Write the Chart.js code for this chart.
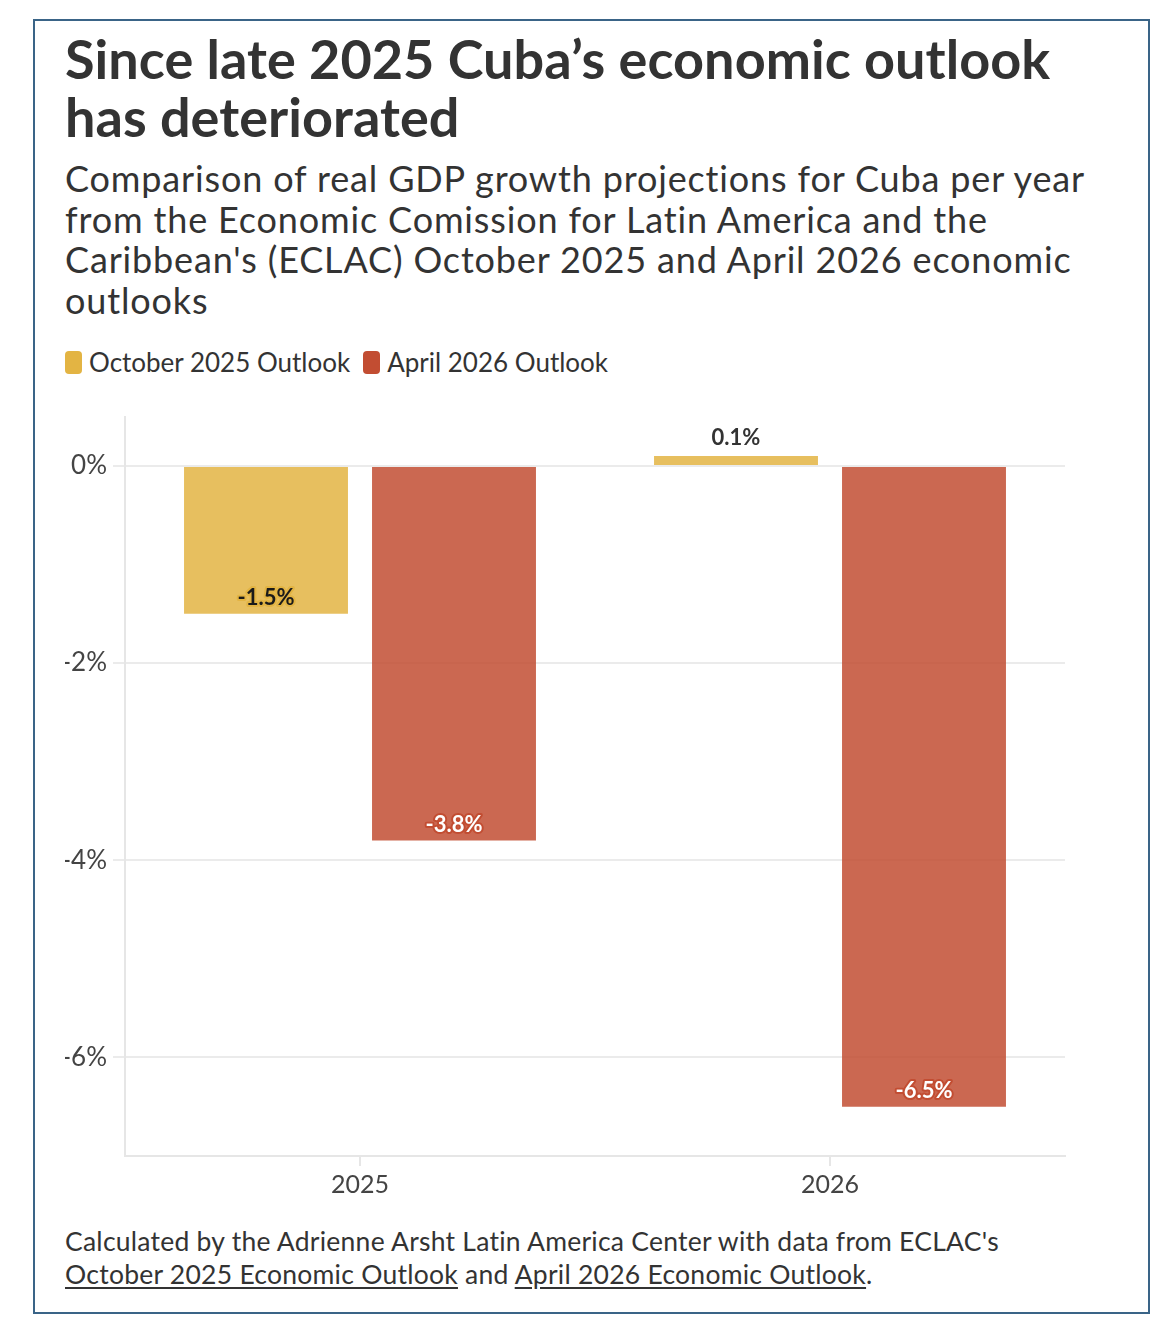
<!DOCTYPE html>
<html>
<head>
<meta charset="utf-8">
<script src="https://cdn.jsdelivr.net/npm/chart.js@4.4.1/dist/chart.umd.min.js"></script>
<style>
  html, body { margin: 0; padding: 0; background: #ffffff; }
  body { width: 1176px; height: 1338px; position: relative; font-family: Lato, "Noto Sans", sans-serif; color: #333333; }
  .card { position: absolute; left: 33px; top: 19px; width: 1113px; height: 1291px; border: 2px solid #3a6487; background: #fff; }
  .title { position: absolute; left: 30px; top: 9px; font-weight: 700; font-size: 54px; line-height: 58px; color: #333; white-space: nowrap; letter-spacing: 0.05px; }
  .subtitle { position: absolute; left: 30px; top: 137px; font-size: 36px; line-height: 40.5px; color: #333; white-space: nowrap; letter-spacing: 0.85px; }
  .legend { position: absolute; left: 30px; top: 326px; height: 30px; font-size: 26px; color: #333; white-space: nowrap; display: flex; align-items: center; }
  .legend .item { display: flex; align-items: center; margin-right: 13px; }
  .legend .sw { display: inline-block; width: 17px; height: 23px; border-radius: 4px; margin-right: 7px; }
  .chartbox { position: absolute; left: 30px; top: 374px; width: 1010px; height: 809px; }
  .footer { position: absolute; left: 30px; top: 1204px; font-size: 26.5px; line-height: 33px; color: #333; white-space: nowrap; letter-spacing: 0.25px; }
  .footer u { text-decoration: underline; text-underline-offset: 3px; }
</style>
</head>
<body>
<div class="card">
  <div class="title">Since late 2025 Cuba’s economic outlook<br>has deteriorated</div>
  <div class="subtitle">Comparison of real GDP growth projections for Cuba per year<br>from the Economic Comission for Latin America and the<br>Caribbean's (ECLAC) October 2025 and April 2026 economic<br>outlooks</div>
  <div class="legend" id="legend"></div>
  <div class="chartbox"><canvas id="c"></canvas></div>
  <div class="footer">Calculated by the Adrienne Arsht Latin America Center with data from ECLAC's<br><u>October 2025 Economic Outlook</u> and <u>April 2026 Economic Outlook</u>.</div>
</div>
<script>
const categories = ["2025", "2026"];
const seriesNames = ["October 2025 Outlook", "April 2026 Outlook"];
const october2025 = [-1.5, 0.1];
const april2026 = [-3.8, -6.5];
const yTicks = [0, -2, -4, -6];

const solidColors = ["#e3b443", "#c24d32"];
const barColors = ["rgba(227,180,67,0.85)", "rgba(194,77,50,0.85)"];
const labelFill = ["#1a1a1a", "#ffffff"];
const FONT = "Lato, 'Noto Sans', sans-serif";

const labelPlugin = {
  id: "barLabels",
  afterDatasetsDraw(chart) {
    const ctx = chart.ctx;
    ctx.save();
    ctx.font = "700 22px " + FONT;
    ctx.textAlign = "center";
    ctx.textBaseline = "middle";
    ctx.lineJoin = "round";
    chart.data.datasets.forEach((ds, di) => {
      const meta = chart.getDatasetMeta(di);
      meta.data.forEach((bar, i) => {
        const v = ds.data[i];
        const txt = v.toFixed(1) + "%";
        let y;
        if (v < 0) {
          y = bar.y - 16;
          ctx.lineWidth = 4;
          ctx.strokeStyle = solidColors[di];
          ctx.strokeText(txt, bar.x, y);
          ctx.fillStyle = labelFill[di];
        } else {
          y = bar.y - 18;
          ctx.fillStyle = "#333333";
        }
        ctx.fillText(txt, bar.x, y);
      });
    });
    ctx.restore();
  }
};

const chart = new Chart(document.getElementById("c"), {
  type: "bar",
  data: {
    labels: categories,
    datasets: [
      { label: seriesNames[0], data: october2025, backgroundColor: barColors[0], borderWidth: 0 },
      { label: seriesNames[1], data: april2026, backgroundColor: barColors[1], borderWidth: 0 }
    ]
  },
  plugins: [labelPlugin],
  options: {
    responsive: true,
    maintainAspectRatio: false,
    animation: false,
    devicePixelRatio: 1,
    layout: { padding: { left: 0, right: 10, top: 10, bottom: 0 } },
    datasets: { bar: { categoryPercentage: 0.8, barPercentage: 0.872 } },
    plugins: {
      tooltip: { enabled: false },
      legend: { display: false }
    },
    scales: {
      x: {
        grid: { display: true, offset: false, drawOnChartArea: false, drawTicks: true, tickLength: 10, color: "#e6e6e6", lineWidth: 2 },
        border: { display: true, color: "#e6e6e6", width: 2 },
        ticks: { color: "#444444", padding: 4, font: { family: FONT, size: 25 } }
      },
      y: {
        min: -7,
        max: 0.5,
        afterFit(scale) { scale.width = 60; },
        afterBuildTicks(scale) { scale.ticks = yTicks.map(v => ({ value: v })); },
        grid: { color: "#ebebeb", lineWidth: 2, tickLength: 12 },
        border: { display: true, color: "#e6e6e6", width: 2 },
        ticks: {
          color: "#444444",
          padding: 6,
          font: { family: FONT, size: 26 },
          callback: (v) => v + "%"
        }
      }
    }
  }
});

// legend built from the chart's datasets
const legendEl = document.getElementById("legend");
chart.data.datasets.forEach((ds, i) => {
  const item = document.createElement("span");
  item.className = "item";
  const sw = document.createElement("span");
  sw.className = "sw";
  sw.style.background = solidColors[i];
  const t = document.createElement("span");
  t.textContent = ds.label;
  item.appendChild(sw);
  item.appendChild(t);
  legendEl.appendChild(item);
});
</script>
</body>
</html>
